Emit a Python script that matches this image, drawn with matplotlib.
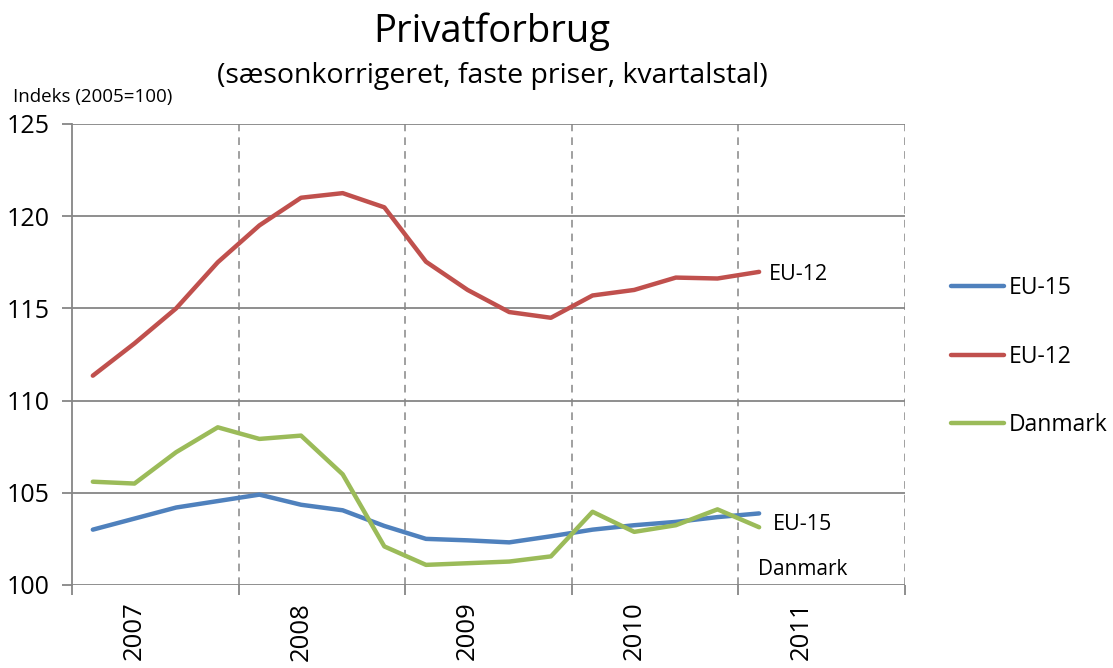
import matplotlib
matplotlib.use("Agg")
import matplotlib.pyplot as plt
import numpy as np

plt.rcParams["font.family"] = ["Open Sans", "DejaVu Sans"]

# quarterly values 2007K1 - 2011K1, index 2005=100
quarters = np.arange(17)
eu15 = [103.0, 103.6, 104.2, 104.55, 104.9, 104.35, 104.05, 103.2,
        102.5, 102.42, 102.31, 102.64, 103.0, 103.24, 103.42, 103.68, 103.88]
eu12 = [111.35, 113.1, 115.0, 117.5, 119.5, 121.0, 121.25, 120.48,
        117.53, 116.0, 114.8, 114.49, 115.7, 116.0, 116.67, 116.62, 116.98]
danmark = [105.6, 105.5, 107.2, 108.55, 107.92, 108.1, 106.0, 102.09,
           101.09, 101.18, 101.27, 101.55, 103.97, 102.88, 103.24, 104.1, 103.13]
years = ["2007", "2008", "2009", "2010", "2011"]
yticks = [100, 105, 110, 115, 120, 125]

colors = {"EU-15": "#4F81BD", "EU-12": "#C0504D", "Danmark": "#9BBB59"}
grid_col = "#868686"

fig = plt.figure(figsize=(11.13, 6.68), dpi=100)
ax = fig.add_axes([0.0647, 0.1243, 0.813 - 0.0647, 0.8144 - 0.1243])

for name, vals in [("EU-15", eu15), ("EU-12", eu12), ("Danmark", danmark)]:
    ax.plot(quarters, vals, color=colors[name], lw=3.2, label=name,
            solid_capstyle="round", solid_joinstyle="round", zorder=3)

ax.set_xlim(-0.5, 19.5)
ax.set_ylim(100, 125)

# horizontal solid grid, vertical dashed year separators
ax.set_yticks(yticks)
ax.set_yticklabels([str(v) for v in yticks], fontsize=18)
for v in yticks:
    ax.axhline(v, color=grid_col, lw=1.3, zorder=1)
bounds = np.arange(-0.5, 20, 4)
for b in bounds[1:]:
    ax.axvline(b, color=grid_col, lw=1.1, ls=(0, (5, 4)), zorder=1)

ax.set_xticks(bounds)
ax.set_xticklabels([])
ax.set_xticks(np.arange(1, 20, 4), minor=True)
ax.set_xticklabels(years, minor=True, rotation=90, fontsize=18.5, va="top")
ax.tick_params(axis="x", which="minor", length=0, pad=12)
ax.tick_params(axis="x", which="major", length=7, width=1.3, color=grid_col)
ax.tick_params(axis="y", length=7, width=1.3, color=grid_col, pad=9)

for s in ["top", "right", "bottom"]:
    ax.spines[s].set_visible(False)
ax.spines["left"].set_color(grid_col)
ax.spines["left"].set_linewidth(1.3)

# inline labels at end of series
ax.annotate("EU-12", (quarters[-1], eu12[-1]), xytext=(10, -3),
            textcoords="offset pixels", fontsize=15.5, va="center", ha="left")
ax.annotate("EU-15", (quarters[-1], eu15[-1]), xytext=(14, -11),
            textcoords="offset pixels", fontsize=15.5, va="center", ha="left")
ax.annotate("Danmark", (quarters[-1], danmark[-1]), xytext=(-1, -42),
            textcoords="offset pixels", fontsize=15, va="center", ha="left")

fig.text(0.442, 0.952, "Privatforbrug", fontsize=27.5, ha="center", va="center")
fig.text(0.442, 0.886, "(sæsonkorrigeret, faste priser, kvartalstal)",
         fontsize=20.5, ha="center", va="center")
fig.text(0.012, 0.855, "Indeks (2005=100)", fontsize=13.5, ha="left", va="center")

leg = ax.legend(loc="center left", bbox_to_anchor=(0.836, 0.466),
                bbox_transform=fig.transFigure, frameon=False, fontsize=16.5,
                handlelength=2.3, handletextpad=0.2, labelspacing=1.95)
for h in leg.get_lines():
    h.set_linewidth(3.2)

fig.savefig("out.png", dpi=100)
